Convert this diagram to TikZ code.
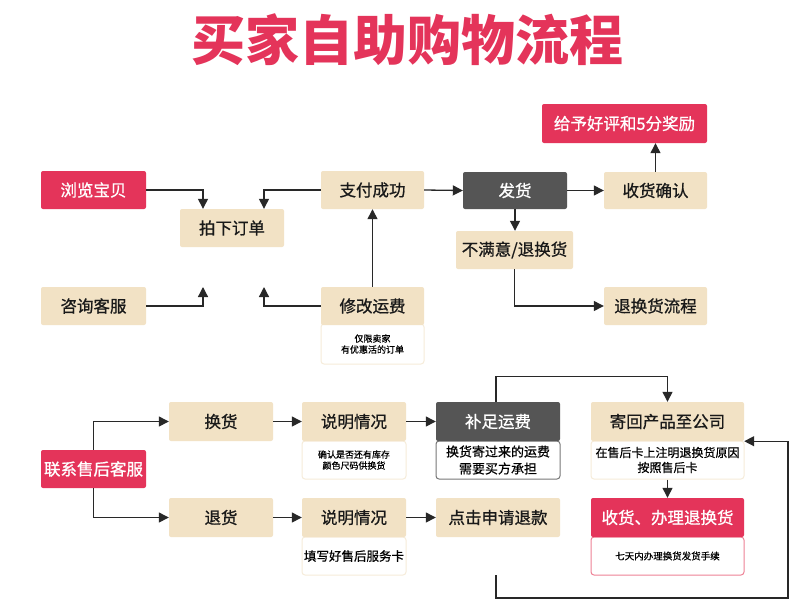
\documentclass[tikz,border=0pt]{standalone}
\usepackage{fontspec}
\setmainfont{Noto Sans CJK SC}
\newfontfamily\medfont{Noto Sans CJK SC}[FakeBold=0.9]
\newfontfamily\smfont{Noto Sans CJK SC}[FakeBold=0.6]
\usetikzlibrary{arrows.meta}
\definecolor{myred}{RGB}{228,52,90}
\definecolor{beige}{RGB}{242,226,197}
\definecolor{dgrey}{RGB}{85,85,85}
\definecolor{lineg}{RGB}{40,40,40}
\definecolor{nbeige}{RGB}{246,236,218}
\definecolor{npink}{RGB}{238,130,150}
\begin{document}
\begin{tikzpicture}[x=1pt,y=-1pt,
  box/.style={rectangle, rounded corners=2pt, inner sep=0pt, minimum height=38pt, font=\medfont\fontsize{16.5}{18}\selectfont, text=black!90},
  bbox/.style={box, fill=beige},
  rbox/.style={box, fill=myred, text=white},
  gbox/.style={box, fill=dgrey, text=white},
  note/.style={rectangle, rounded corners=3pt, fill=white, draw=nbeige, line width=1pt, align=center, inner sep=0pt, minimum height=38pt, text=black},
  arr/.style={draw=lineg, line width=1.3pt, -{Triangle[width=10pt,length=10pt]}}
]
\useasboundingbox (0,0) rectangle (800,611);
\fill[white] (0,0) rectangle (800,611);

\node[text=myred, font=\fontsize{54}{60}\selectfont\bfseries] (title) at (407,40) {买家自助购物流程};

% top part
\node[rbox, minimum width=105pt] (browse) at (93.5,190) {浏览宝贝};
\node[bbox, minimum width=104pt] (order) at (232,228) {拍下订单};
\node[bbox, minimum width=105pt] (consult) at (93.5,306) {咨询客服};
\node[bbox, minimum width=103pt] (pay) at (372.5,190) {支付成功};
\node[note, minimum width=103pt, minimum height=40pt, font=\smfont\fontsize{9}{11}\selectfont] (modnote) at (372.5,344) {仅限卖家\\有优惠活的订单};
\node[bbox, minimum width=103pt] (modify) at (372.5,306) {修改运费};
\node[gbox, minimum width=104pt, minimum height=37pt] (ship) at (515,190.5) {发货};
\node[bbox, minimum width=103pt, minimum height=37pt] (recv) at (655.5,190.5) {收货确认};
\node[rbox, minimum width=165pt, minimum height=39pt] (reward) at (624.5,123.5) {给予好评和5分奖励};
\node[bbox, minimum width=117pt] (unsat) at (514.5,250) {不满意/退换货};
\node[bbox, minimum width=103pt] (flow) at (655.5,306) {退换货流程};

\coordinate (c1) at (203,287);
\coordinate (c2) at (264,287);
\draw[arr] (browse.east) -| ([xshift=-29pt]order.north);
\draw[arr] (pay.west) -| ([xshift=32pt]order.north);
\draw[arr] (consult.east) -| (c1);
\draw[arr] (modify.west) -| (c2);
\draw[arr] (modify.north) -- (pay.south);
\draw[arr] (pay.east) -- (ship.west);
\draw[arr] (ship.east) -- (recv.west);
\draw[arr] (recv.north) -- (recv.north |- reward.south);
\draw[arr] (ship.south) -- (ship.south |- unsat.north);
\draw[arr] (unsat.south) |- (flow.west);

% bottom part
\node[rbox, minimum width=105pt] (contact) at (93.5,469) {联系售后客服};
\node[bbox, minimum width=104pt, minimum height=39pt] (exch) at (221,421.5) {换货};
\node[bbox, minimum width=104pt, minimum height=39pt] (ret) at (221,517.5) {退货};
\node[note, minimum width=104pt, font=\smfont\fontsize{9}{11}\selectfont] (d1note) at (354,460) {确认是否还有库存\\颜色尺码供换货};
\node[bbox, minimum width=104pt, minimum height=39pt] (desc1) at (354,421.5) {说明情况};
\node[note, minimum width=104pt, font=\smfont\fontsize{12.5}{15}\selectfont] (d2note) at (354,556) {填写好售后服务卡};
\node[bbox, minimum width=104pt, minimum height=39pt] (desc2) at (354,517.5) {说明情况};
\node[note, draw=dgrey!80, minimum width=124pt, font=\smfont\fontsize{13}{17}\selectfont] (tnote) at (498,460) {换货寄过来的运费\\需要买方承担};
\node[gbox, minimum width=124pt, minimum height=39pt] (topup) at (498,421.5) {补足运费};
\node[bbox, minimum width=124pt, minimum height=39pt] (refund) at (498,517.5) {点击申请退款};
\node[note, minimum width=153pt, font=\smfont\fontsize{12}{15}\selectfont] (snote) at (667.5,460) {在售后卡上注明退换货原因\\按照售后卡};
\node[bbox, minimum width=153pt, minimum height=39pt] (sendback) at (667.5,421.5) {寄回产品至公司};
\node[note, draw=npink, minimum width=153pt, font=\smfont\fontsize{9.5}{11}\selectfont] (hnote) at (667.5,556) {七天内办理换货发货手续};
\node[rbox, minimum width=153pt, minimum height=39pt] (handle) at (667.5,517.5) {收货、办理退换货};

\draw[arr] (contact.north) |- (exch.west);
\draw[arr] (contact.south) |- (ret.west);
\draw[arr] (exch.east) -- (desc1.west);
\draw[arr] (ret.east) -- (desc2.west);
\draw[arr] (desc1.east) -- (topup.west);
\draw[arr] (desc2.east) -- (refund.west);
\draw[arr] ([xshift=-2pt]topup.north) -- ++(0,-25) -| (sendback.north);
\draw[arr] (snote.south) -- (handle.north);
\coordinate (rs) at ([xshift=-2pt,yshift=-38pt]refund.south);
\coordinate (lc) at (788,598);
\draw[arr] (rs) |- (lc) |- (sendback.south east);
\end{tikzpicture}
\end{document}
